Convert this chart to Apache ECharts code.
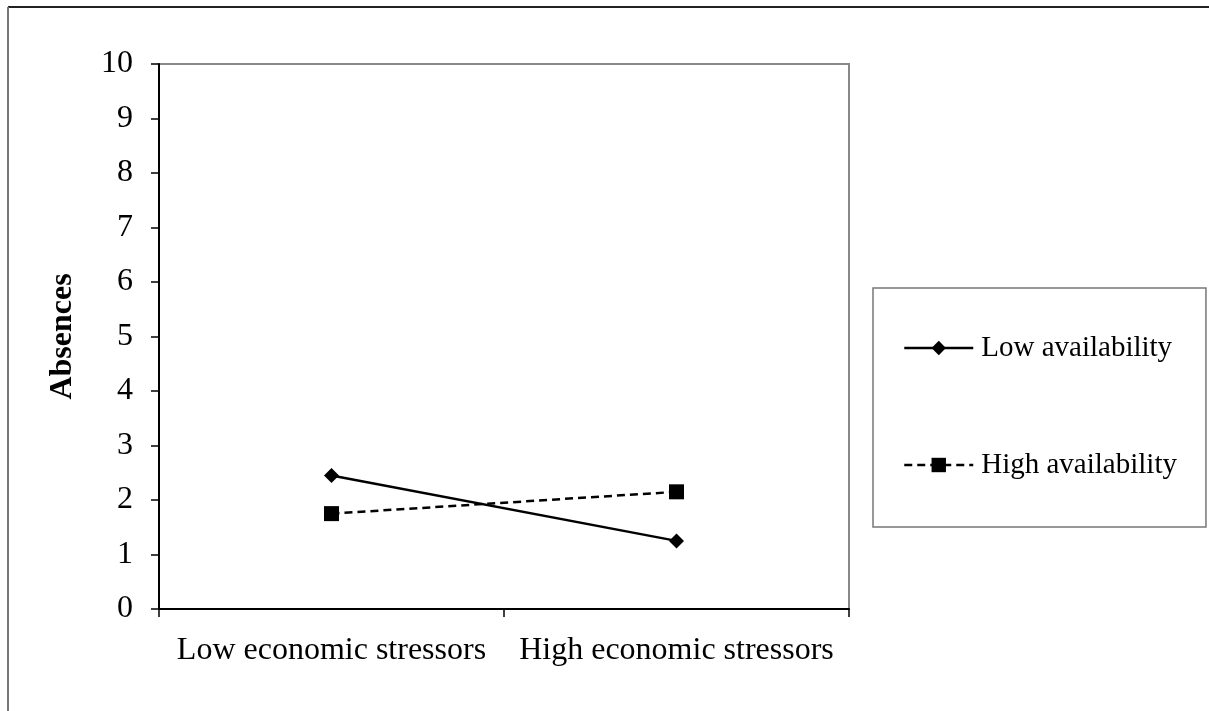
<!DOCTYPE html>
<html>
<head>
<meta charset="utf-8">
<script src="https://cdn.jsdelivr.net/npm/echarts@6/dist/echarts.min.js"></script>
<style>
  html, body { margin: 0; padding: 0; background: #fff; }
  #chart { width: 1209px; height: 711px; }
</style>
</head>
<body>
<div id="chart"></div>
<script>
  // data
  var categories = ['Low economic stressors', 'High economic stressors']
  var lowAvailability = [2.45, 1.25]
  var highAvailability = [1.75, 2.15]
  var yTicks = { min: 0, max: 10, interval: 1 }

  var font = "'Liberation Serif', 'Times New Roman', serif"

  var chart = echarts.init(document.getElementById('chart'))
  chart.setOption({
    backgroundColor: '#fff',
    animation: false,
    textStyle: { fontFamily: font, color: '#000' },
    graphic: [
      // outer frame: only top and left edges are on the canvas
      {
        type: 'line',
        shape: { x1: 8, y1: 7, x2: 1209, y2: 7 },
        style: { stroke: '#222', lineWidth: 2 }
      },
      {
        type: 'line',
        shape: { x1: 8, y1: 7, x2: 8, y2: 711 },
        style: { stroke: '#777', lineWidth: 2 }
      }
    ],
    grid: {
      left: 159,
      top: 64,
      right: 360,
      bottom: 102,
      show: true,
      borderColor: '#888',
      borderWidth: 2
    },
    legend: {
      orient: 'vertical',
      left: 873,
      top: 288,
      padding: [45, 29, 47, 30],
      itemGap: 87,
      itemWidth: 69,
      itemHeight: 18,
      borderColor: '#777',
      borderWidth: 1.5,
      lineStyle: { width: 2.5 },
      textStyle: { fontFamily: font, fontSize: 29, lineHeight: 30, color: '#000', padding: [0, 0, 0, 3] },
      data: ['Low availability', 'High availability']
    },
    xAxis: {
      type: 'category',
      data: categories,
      boundaryGap: true,
      axisLine: { lineStyle: { color: '#000', width: 2 } },
      axisTick: { show: true, interval: 0, length: 8, lineStyle: { color: '#000', width: 1.5 } },
      axisLabel: { interval: 0, fontFamily: font, fontSize: 32, color: '#000', margin: 26 },
      splitLine: { show: false }
    },
    yAxis: {
      type: 'value',
      min: yTicks.min,
      max: yTicks.max,
      interval: yTicks.interval,
      name: 'Absences',
      nameLocation: 'middle',
      nameGap: 80,
      nameTextStyle: { fontFamily: font, fontSize: 32, fontWeight: 'bold', color: '#000' },
      axisLine: { show: true, lineStyle: { color: '#000', width: 2 } },
      axisTick: { show: true, length: 8, lineStyle: { color: '#000', width: 1.5 } },
      axisLabel: { fontFamily: font, fontSize: 32, color: '#000', margin: 26 },
      splitLine: { show: false }
    },
    series: [
      {
        name: 'Low availability',
        type: 'line',
        data: lowAvailability,
        symbol: 'diamond',
        symbolSize: 15,
        itemStyle: { color: '#000' },
        lineStyle: { color: '#000', width: 2.5 }
      },
      {
        name: 'High availability',
        type: 'line',
        data: highAvailability,
        symbol: 'rect',
        symbolSize: 15,
        itemStyle: { color: '#000' },
        lineStyle: { color: '#000', width: 2.5, type: [8, 5] }
      }
    ]
  })
</script>
</body>
</html>
